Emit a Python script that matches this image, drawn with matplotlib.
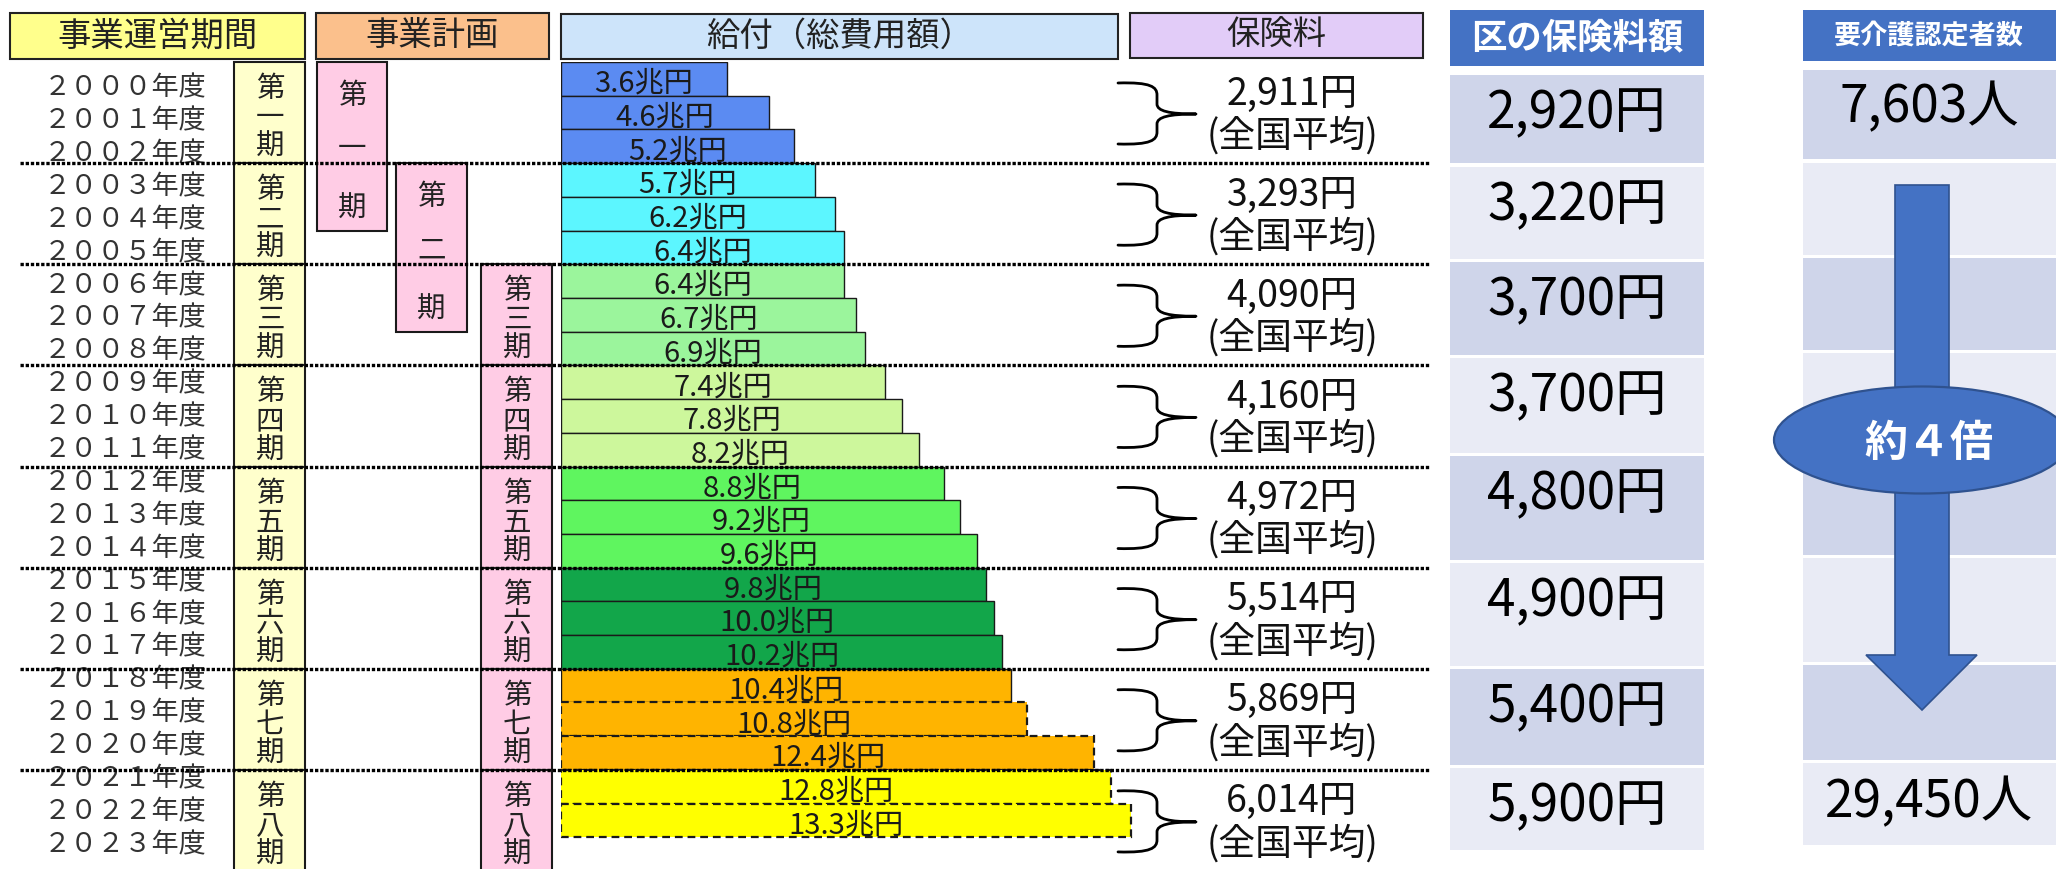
import numpy as np
import matplotlib.pyplot as plt
from matplotlib.patches import Rectangle, Ellipse, Polygon, PathPatch
from matplotlib.path import Path

JP = ["Noto Sans CJK JP", "DejaVu Sans"]
NARROW = ["Liberation Sans Narrow", "Noto Sans CJK JP", "DejaVu Sans"]
plt.rcParams["font.family"] = JP

# ------------------------------------------------------------
# データ
# ------------------------------------------------------------
FISCAL_YEARS = [2000, 2001, 2002, 2003, 2004, 2005, 2006, 2007,
                2008, 2009, 2010, 2011, 2012, 2013, 2014, 2015,
                2016, 2017, 2018, 2019, 2020, 2021, 2022, 2023]

# 給付（総費用額）兆円  2023年度は未掲載
BENEFIT = [3.6, 4.6, 5.2, 5.7, 6.2, 6.4, 6.4, 6.7, 6.9, 7.4, 7.8, 8.2,
           8.8, 9.2, 9.6, 9.8, 10.0, 10.2, 10.4, 10.8, 12.4, 12.8, 13.3]
ESTIMATE_FROM = 2019

PERIOD_NUMS = ["一", "二", "三", "四", "五", "六", "七", "八"]

# 保険料（全国平均）円
PREMIUM_NATIONAL = [2911, 3293, 4090, 4160, 4972, 5514, 5869, 6014]

# 区の保険料額 円
PREMIUM_WARD = [2920, 3220, 3700, 3700, 4800, 4900, 5400, 5900]

# 要介護認定者数（第一期と第八期）
CERTIFIED = [7603, 29450]
GROWTH = "約４倍"

# ------------------------------------------------------------
# レイアウト（ピクセル単位）
# ------------------------------------------------------------
W, H = 2056, 869
ROW_TOP = 62
ROW_H = 33.71
PERIOD_TOP = [ROW_TOP + 3 * p * ROW_H for p in range(8)]

PERIOD_COLORS = ["#5b8bf2", "#5cf6ff", "#9bf59c", "#cdf79c",
                 "#5ff55f", "#12a64a", "#ffb400", "#ffff00"]

WARD_CELLS = [(75, 163), (167, 259), (262, 355), (358, 453),
              (456, 560), (563, 666), (669, 765), (768, 850)]
CERT_CELLS = [(70, 159), (163, 255), (258, 350), (353, 451),
              (454, 555), (558, 662), (665, 760), (763, 845)]
CELL_DARK = "#cfd5ea"
CELL_LIGHT = "#e9ebf5"
BLUE = "#4472c4"
BLUE_EDGE = "#2f528f"

fig = plt.figure(figsize=(W / 100, H / 100), dpi=100)
fig.patch.set_facecolor("white")

# ------------------------------------------------------------
# 給付の棒グラフ
# ------------------------------------------------------------
bx0, bx1 = 561, 1200
by0, by1 = ROW_TOP, ROW_TOP + 24 * ROW_H
axb = fig.add_axes([bx0 / W, 1 - by1 / H, (bx1 - bx0) / W, (by1 - by0) / H],
                   zorder=1)
X0 = -0.38
PX_PER_UNIT = 41.7
axb.set_xlim(X0, X0 + (bx1 - bx0) / PX_PER_UNIT)
axb.set_ylim(23.5, -0.5)
axb.axis("off")

for i, (yr, v) in enumerate(zip(FISCAL_YEARS, BENEFIT)):
    est = yr >= ESTIMATE_FROM
    axb.barh(i, v - X0, left=X0, height=1.0,
             color=PERIOD_COLORS[i // 3],
             edgecolor="#1a1a1a",
             linewidth=1.6 if est else 1.0,
             linestyle=(0, (3.5, 2.2)) if est else "-")
    axb.text((X0 + v) / 2, i + 0.14, f"{v:.1f}兆円",
             ha="center", va="center", fontsize=21, color="#1a1a1a")

# ------------------------------------------------------------
# 表の枠・文字（ピクセル座標のオーバーレイ）
# ------------------------------------------------------------
ov = fig.add_axes([0, 0, 1, 1], zorder=2)
ov.set_xlim(0, W)
ov.set_ylim(H, 0)
ov.axis("off")
ov.patch.set_visible(False)


def box(x0, y0, x1, y1, fc, ec="#222222", lw=1.5):
    ov.add_patch(Rectangle((x0, y0), x1 - x0, y1 - y0,
                           facecolor=fc, edgecolor=ec, linewidth=lw))


def vertical_label(x, top, num, offsets):
    for ch, dy in zip(["第", num, "期"], offsets):
        ov.text(x, top + dy, ch, ha="center", va="center",
                fontsize=20.5, color="#222222")


# 見出し
headers = [
    (10, 13, 305, 59, "#ffff8c", "事業運営期間"),
    (316, 13, 549, 59, "#fbc08c", "事業計画"),
    (561, 14, 1118, 59, "#cde4fa", "給付（総費用額）"),
    (1130, 13, 1423, 58, "#e2ccf8", "保険料"),
]
for x0, y0, x1, y1, fc, label in headers:
    box(x0, y0, x1, y1, fc)
    ov.text((x0 + x1) / 2, (y0 + y1) / 2, label, ha="center", va="center",
            fontsize=24, color="#222222")

# 年度
for i, yr in enumerate(FISCAL_YEARS):
    full = str(yr).translate(str.maketrans("0123456789", "０１２３４５６７８９"))
    ov.text(206, 88 + 32.9 * i, full + "年度", ha="right", va="center",
            fontsize=19.5, color="#333333")

# 事業運営期間（第一期〜第八期）
for p, num in enumerate(PERIOD_NUMS):
    top = PERIOD_TOP[p]
    bottom = PERIOD_TOP[p + 1] if p < 7 else H + 10
    box(234, top, 305, bottom, "#ffffcc", ec="#1a1a1a")
    vertical_label(270, top, num, (27, 56, 85))

# 事業計画（第一期・第二期は5年、第三期以降は3年）
plan_rows = [(0, 5, 317, 387), (3, 8, 396, 467)]
for k, (r0, r1, x0, x1) in enumerate(plan_rows):
    top = ROW_TOP + r0 * ROW_H
    bottom = ROW_TOP + r1 * ROW_H
    box(x0, top, x1, bottom, "#ffcce5", ec="#1a1a1a")
    vertical_label((x0 + x1) / 2, top, PERIOD_NUMS[k], (34, 87, 147))

for p in range(2, 8):
    top = PERIOD_TOP[p]
    bottom = PERIOD_TOP[p + 1] if p < 7 else H + 10
    box(481, top, 552, bottom, "#ffcce5", ec="#1a1a1a")
    vertical_label(517, top, PERIOD_NUMS[p], (27, 56, 85))

# 期の区切り（点線）
for p in range(1, 8):
    ov.plot([20, 1429], [PERIOD_TOP[p]] * 2, color="black", linewidth=2.4,
            linestyle=(0, (1, 0.55)), solid_capstyle="butt",
            dash_capstyle="butt", zorder=5)


# 保険料（全国平均）と中括弧
def brace(top):
    x0, x1, x2 = 1118, 1157, 1196
    y0, ym, y1 = top + 21, top + 52, top + 82
    verts = [(x0, y0),
             (x1 - 6, y0 - 1), (x1, y0 + 4), (x1, y0 + 12),
             (x1, ym - 10),
             (x1, ym - 3), (x1 + 12, ym), (x2, ym),
             (x1 + 12, ym), (x1, ym + 3), (x1, ym + 10),
             (x1, y1 - 12),
             (x1, y1 - 4), (x1 - 6, y1 + 1), (x0, y1)]
    codes = ([Path.MOVETO] + [Path.CURVE4] * 3 + [Path.LINETO]
             + [Path.CURVE4] * 6 + [Path.LINETO] + [Path.CURVE4] * 3)
    ov.add_patch(PathPatch(Path(verts, codes), facecolor="none",
                           edgecolor="black", linewidth=2.0,
                           capstyle="round", joinstyle="round"))


for p, amount in enumerate(PREMIUM_NATIONAL):
    top = PERIOD_TOP[p]
    brace(top)
    ov.text(1292, top + 32, f"{amount:,}円", ha="center", va="center",
            fontsize=27, color="#111111")
    ov.text(1292, top + 74, "(全国平均)", ha="center", va="center",
            fontsize=26.5, color="#111111")

# 区の保険料額
box(1450, 10, 1704, 66, BLUE, ec="none", lw=0)
ov.text(1577, 38, "区の保険料額", ha="center", va="center", fontsize=25.5,
        color="white", fontweight="bold")
for k, ((y0, y1), amount) in enumerate(zip(WARD_CELLS, PREMIUM_WARD)):
    box(1450, y0, 1704, y1, CELL_DARK if k % 2 == 0 else CELL_LIGHT,
        ec="none", lw=0)
    ov.text(1577, y0 + 38, f"{amount:,}円", ha="center", va="center",
            fontsize=37, color="black", family=NARROW)

# 要介護認定者数
box(1803, 10, 2060, 61, BLUE, ec="none", lw=0)
ov.text(1929, 36, "要介護認定者数", ha="center", va="center", fontsize=19.5,
        color="white", fontweight="bold")
for k, (y0, y1) in enumerate(CERT_CELLS):
    box(1803, y0, 2060, y1, CELL_DARK if k % 2 == 0 else CELL_LIGHT,
        ec="none", lw=0)
ov.text(1929, 107, f"{CERTIFIED[0]:,}人", ha="center", va="center",
        fontsize=37, color="black", family=NARROW)
ov.text(1929, 802, f"{CERTIFIED[1]:,}人", ha="center", va="center",
        fontsize=37, color="black", family=NARROW)

# 下向き矢印と「約4倍」
arrow = [(1895, 185), (1949, 185), (1949, 655), (1977, 655),
         (1922, 710), (1866, 655), (1895, 655)]
ov.add_patch(Polygon(arrow, closed=True, facecolor=BLUE,
                     edgecolor=BLUE_EDGE, linewidth=1.2))
ov.add_patch(Ellipse((1922, 440), 296, 107, facecolor=BLUE,
                     edgecolor=BLUE_EDGE, linewidth=1.6))
ov.text(1929, 443, GROWTH, ha="center", va="center", fontsize=31,
        color="white", fontweight="bold")

fig.savefig("out.png", dpi=100)
